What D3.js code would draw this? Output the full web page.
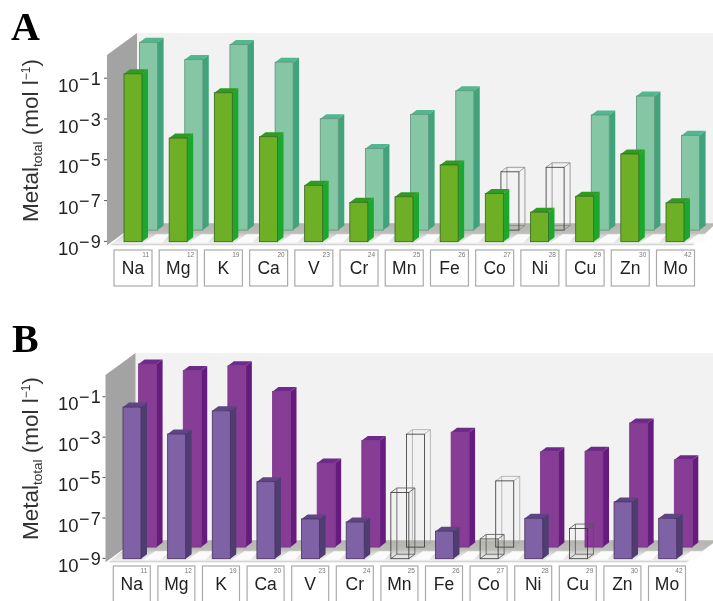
<!DOCTYPE html>
<html>
<head>
<meta charset="utf-8">
<script src="https://cdn.jsdelivr.net/npm/d3@7"></script>
<style>
html, body { margin: 0; padding: 0; background: #fff; }
svg { display: block; }
text { font-family: "Liberation Sans", Arial, sans-serif; }
</style>
</head>
<body>
<svg id="chart" width="713" height="601"></svg>
<script>
const elements = ["Na", "Mg", "K", "Ca", "V", "Cr", "Mn", "Fe", "Co", "Ni", "Cu", "Zn", "Mo"];
const atomic_numbers = [11, 12, 19, 20, 23, 24, 25, 26, 27, 28, 29, 30, 42];
const tick_values = [1e-9, 1e-7, 1e-5, 1e-3, 1e-1];
const tick_labels = ["9", "7", "5", "3", "1"];

// mol per litre
const a_front = [1.7e-1, 1.2e-4, 2e-2, 1.4e-4, 5.8e-7, 8.5e-8, 1.6e-7, 5.8e-6, 2.3e-7, 2.8e-8, 1.7e-7, 2e-5, 8.1e-8];
const a_back = [1.6, 2.3e-1, 1.26, 1.7e-1, 2.9e-4, 1e-5, 4.7e-4, 6.8e-3, 7.2e-7, 1.2e-6, 4.4e-4, 3.7e-3, 4.4e-5];
const b_front = [3.2e-2, 1.5e-3, 2.1e-2, 6.5e-6, 9.3e-8, 6.6e-8, 1.9e-6, 2.3e-8, 9.5e-9, 1e-7, 3.1e-8, 6.5e-7, 1e-7];
const b_back = [1.17, 5.5e-1, 9.5e-1, 5e-2, 1.45e-5, 1.9e-4, 3.9e-4, 4.9e-4, 1.9e-6, 5.2e-5, 5.6e-5, 1.4e-3, 2.1e-5];

// below detection limit, drawn as empty boxes
const a_front_empty = [];
const a_back_empty = ["Co", "Ni"];
const b_front_empty = ["Mn", "Co", "Cu"];
const b_back_empty = ["Mn", "Co"];

const svg = d3.select("#chart");
const bar_w = 18, dx = 6, dy = 4.5;

const defs = svg.append("defs");
defs.append("filter").attr("id", "soft")
    .attr("x", "-2%").attr("y", "-2%").attr("width", "104%").attr("height", "104%")
    .append("feGaussianBlur").attr("stdDeviation", 0.45);
const floor_grad = defs.append("linearGradient").attr("id", "floor_grad")
    .attr("x1", 0).attr("y1", 0).attr("x2", 0).attr("y2", 1);
floor_grad.append("stop").attr("offset", "0%").attr("stop-color", "#b4b4b0");
floor_grad.append("stop").attr("offset", "42%").attr("stop-color", "#bcbcb8");
floor_grad.append("stop").attr("offset", "62%").attr("stop-color", "#dcdcda");
floor_grad.append("stop").attr("offset", "92%").attr("stop-color", "#ececec");
floor_grad.append("stop").attr("offset", "100%").attr("stop-color", "#c6c6c6");

const root = svg.append("g").attr("filter", "url(#soft)");

function draw_bars(g, values, empty, x, y, colors, wire_back) {
    const base = y(1e-9);
    elements.forEach(function (el, i) {
        const left = x(el), top = y(values[i]);
        if (empty.includes(el)) {
            // back edges first so the front frame sits on top
            g.append("path")
                .attr("d", `M${left + dx},${base - dy}V${top - dy}H${left + bar_w + dx}V${base - dy}Z`
                    + `M${left},${top}L${left + dx},${top - dy}M${left + bar_w},${top}L${left + bar_w + dx},${top - dy}`
                    + `M${left},${base}L${left + dx},${base - dy}M${left + bar_w},${base}L${left + bar_w + dx},${base - dy}`)
                .attr("fill", "none").attr("stroke", wire_back).attr("stroke-width", 0.8);
            g.append("rect")
                .attr("x", left).attr("y", top).attr("width", bar_w).attr("height", base - top)
                .attr("fill", "none").attr("stroke", "#333").attr("stroke-width", 0.8);
            return;
        }
        g.append("path")
            .attr("d", `M${left + bar_w},${top}L${left + bar_w + dx},${top - dy}V${base - dy}L${left + bar_w},${base}Z`)
            .attr("fill", colors.side);
        g.append("path")
            .attr("d", `M${left},${top}L${left + dx},${top - dy}H${left + bar_w + dx}L${left + bar_w},${top}Z`)
            .attr("fill", colors.top);
        g.append("rect")
            .attr("x", left).attr("y", top).attr("width", bar_w).attr("height", base - top)
            .attr("fill", colors.face).attr("stroke", colors.line).attr("stroke-width", 0.8);
    });
}

function draw_panel(p) {
    const g = root.append("g");
    const y = d3.scaleLog().domain([1e-9, 1e-1]).range([p.base, p.base - 8 * p.decade]);
    const x = d3.scalePoint().domain(elements).range(p.bar_range);
    const box_x = d3.scalePoint().domain(elements).range(p.box_range);
    const top_y = p.wall_top, floor_y = p.base - 18.5, floor_front = p.base + 3.5;
    const wall_l = p.wall_x, wall_r = p.wall_x + 30;

    // back wall, side wall, floor
    g.append("rect").attr("x", wall_r).attr("y", top_y).attr("width", 713 - wall_r).attr("height", floor_y - top_y + 1)
        .attr("fill", "#f2f2f2");
    g.append("path")
        .attr("d", `M${wall_l},${top_y + 22}L${wall_r},${top_y}V${floor_y}L${wall_l},${floor_front}Z`)
        .attr("fill", "#a3a3a3");
    g.append("path")
        .attr("d", `M${wall_l + 3},${floor_front}L${wall_r},${floor_y}H713V${floor_y + 3}L${p.floor_right},${floor_front}Z`)
        .attr("fill", "url(#floor_grad)");

    // white strips between the front bars
    g.selectAll("path.strip").data(elements).enter().append("path")
        .attr("d", function (d) {
            const l = x(d) + bar_w + 2;
            return `M${l},${p.base + 1}L${l + 12},${floor_y + 11}H${l + 26}L${l + 18},${p.base + 1}Z`;
        })
        .attr("fill", "#fbfbfb");

    draw_bars(g.append("g").attr("transform", "translate(15.6,-11.6)"),
        p.back, p.back_empty, x, y, p.back_colors, p.wire_back);
    draw_bars(g.append("g"), p.front, p.front_empty, x, y, p.front_colors, "#555");

    // log axis on the grey wall
    const axis = g.append("g").attr("transform", `translate(${wall_l},-0.8)`)
        .call(d3.axisLeft(y).tickValues(tick_values).tickSize(3).tickFormat(""));
    axis.select(".domain").remove();
    axis.selectAll("line").attr("stroke", "#555");
    axis.selectAll(".tick").each(function (d, i) {
        const t = d3.select(this).append("text")
            .attr("x", 58 - wall_l).attr("y", 13.5).attr("fill", "#222").attr("text-anchor", "start");
        t.append("tspan").attr("font-size", 18.5).text("10");
        t.append("tspan").attr("font-size", 18).attr("letter-spacing", 1.2).attr("dy", -7).attr("dx", 0.5).text("\u2212" + tick_labels[i]);
    });

    // y axis title
    const title = g.append("text")
        .attr("transform", `translate(${p.title_x},${p.title_y}) rotate(-90)`)
        .attr("fill", "#333").attr("font-size", 22.5);
    title.append("tspan").text("Metal");
    title.append("tspan").attr("font-size", 13.5).attr("dy", 4).text("total");
    title.append("tspan").attr("dy", -4).text(" (mol l");
    title.append("tspan").attr("font-size", 12).attr("dy", -8).text("\u22121");
    title.append("tspan").attr("dy", 8).text(")");

    // element tiles
    const tile = g.selectAll("g.tile").data(elements).enter().append("g")
        .attr("class", "tile")
        .attr("transform", d => `translate(${box_x(d)},${p.box_y})`);
    tile.append("rect")
        .attr("width", p.box_w).attr("height", 36)
        .attr("fill", "#fff").attr("stroke", "#aaa").attr("stroke-width", 1.2);
    tile.append("text")
        .attr("x", p.box_w / 2).attr("y", 24.3).attr("text-anchor", "middle")
        .attr("font-size", 17.5).attr("fill", "#222")
        .text(d => d);
    tile.append("text")
        .attr("x", p.box_w - 3).attr("y", 7).attr("text-anchor", "end")
        .attr("font-size", 6.5).attr("fill", "#777")
        .text((d, i) => atomic_numbers[i]);

    // panel letter
    g.append("text")
        .attr("x", p.letter_x).attr("y", p.letter_y)
        .attr("font-size", 40).attr("font-weight", "bold").attr("fill", "#000")
        .style("font-family", '"Liberation Serif", serif')
        .text(p.letter);
}

draw_panel({
    letter: "A", letter_x: 11, letter_y: 40,
    base: 241.7, decade: 20.4, bar_range: [124, 666], box_range: [114, 656.5], box_y: 250, box_w: 38,
    wall_x: 107, wall_top: 33, floor_right: 693,
    title_x: 38, title_y: 222,
    front: a_front, back: a_back, front_empty: a_front_empty, back_empty: a_back_empty, wire_back: "#888",
    front_colors: { face: "#6db026", side: "#1fa82e", top: "#2f9c22", line: "#33651a" },
    back_colors: { face: "#85c6a5", side: "#3fa37b", top: "#4fb88f", line: "#5a9379" }
});

draw_panel({
    letter: "B", letter_x: 12, letter_y: 352,
    base: 558.7, decade: 20.2, bar_range: [123, 658.7], box_range: [113.3, 648.5], box_y: 566, box_w: 37,
    wall_x: 105.5, wall_top: 353, floor_right: 687,
    title_x: 38, title_y: 540,
    front: b_front, back: b_back, front_empty: b_front_empty, back_empty: b_back_empty, wire_back: "#aaa",
    front_colors: { face: "#7f62a6", side: "#4f3c72", top: "#5f4583", line: "#43305f" },
    back_colors: { face: "#873d96", side: "#661f7e", top: "#6e2a88", line: "#7a3389" }
});
</script>
</body>
</html>
